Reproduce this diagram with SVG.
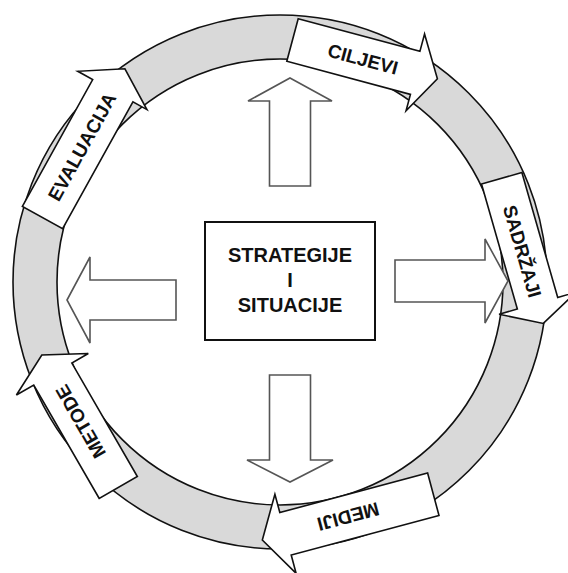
<svg xmlns="http://www.w3.org/2000/svg" width="568" height="573" viewBox="0 0 568 573">
<style>
.ring{fill:#d9d9d9;stroke:#111;stroke-width:1.6;fill-rule:evenodd}
.ra{fill:#fff;stroke:#111;stroke-width:1.6;stroke-linejoin:miter}
.ca{fill:#fff;stroke:#555;stroke-width:1.6;stroke-linejoin:miter}
.box{fill:#fff;stroke:#111;stroke-width:2}
.lbl{font-family:"Liberation Sans",Arial,sans-serif;font-weight:bold;font-size:19px;fill:#111;text-anchor:middle}
.big{font-size:20px}
</style>
<g id="ring">
<path class="ring" d="M13,282 A267,267 0 1,0 547,282 A267,267 0 1,0 13,282 Z M57,282 A223,223 0 1,0 503,282 A223,223 0 1,0 57,282 Z"/>
</g>
<g id="connectors">
<path class="ca" d="M290,78 L332,101 L310.5,101 L310.5,186 L269.5,186 L269.5,101 L248,101 Z"/>
<path class="ca" d="M269.5,375 L310.5,375 L310.5,460 L333,460 L290,482 L247,460 L269.5,460 Z"/>
<path class="ca" d="M67,300 L90,257 L90,280 L176,280 L176,320 L90,320 L90,343 Z"/>
<path class="ca" d="M395,260 L485,260 L485,239 L508,281 L485,323 L485,302 L395,302 Z"/>
</g>
<g id="ciljevi" transform="translate(292.5,40) rotate(15)">
<path class="ra" d="M0,-22 L126,-22 L126,-40 L150,0 L128,39 L128,22 L0,22 Z"/>
<text class="lbl" x="73" y="7">CILJEVI</text>
</g>
<g id="sadrzaji" transform="translate(501.7,178.3) rotate(74)">
<path class="ra" d="M0,-21 L130,-21 L130,-40 L151,0 L130,40 L130,21 L0,21 Z"/>
<text class="lbl" x="76" y="7">SADRŽAJI</text>
</g>
<g id="mediji" transform="translate(433.3,494.2) rotate(165)">
<path class="ra" d="M0,-22 L153,-22 L153,-41 L177,0 L153,41 L153,22 L0,22 Z"/>
<text class="lbl" x="88" y="7">MEDIJI</text>
</g>
<g id="metode" transform="translate(118.3,487.5) rotate(240)">
<path class="ra" d="M0,-22 L131,-22 L131,-42 L153,0 L131,41 L131,22 L0,22 Z"/>
<text class="lbl" x="76" y="7">METODE</text>
</g>
<g id="evaluacija" transform="translate(42.5,217.5) rotate(-61)">
<path class="ra" d="M0,-23 L145,-23 L145,-40 L170,0 L145,39 L145,23 L0,23 Z"/>
<text class="lbl" x="81" y="7">EVALUACIJA</text>
</g>
<g id="center">
<rect class="box" x="205" y="222" width="170" height="118"/>
<text class="lbl big" x="290" y="262">STRATEGIJE</text>
<text class="lbl big" x="290" y="287">I</text>
<text class="lbl big" x="290" y="312">SITUACIJE</text>
</g>
</svg>
